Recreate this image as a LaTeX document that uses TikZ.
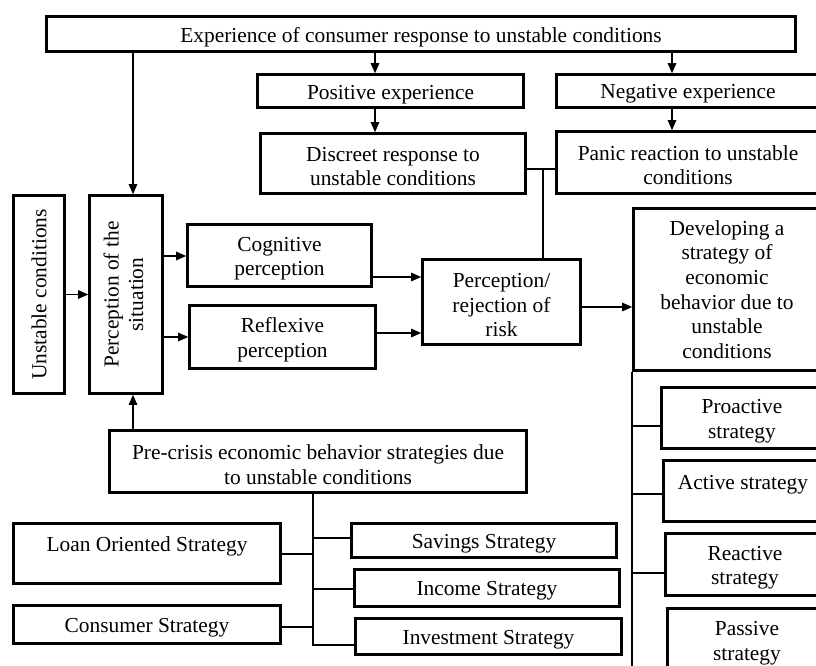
\documentclass[tikz,border=0pt]{standalone}
\usepackage{fontspec}
\setmainfont{Liberation Serif}
\usetikzlibrary{arrows.meta}
\newcommand\tallline{\rule{0pt}{20.6pt}}
\begin{document}
\begin{tikzpicture}[x=1pt,y=-1pt,
  box/.style={draw, line width=2.6pt, align=center, inner sep=2pt,
    font=\fontsize{21.4}{24.6}\selectfont},
  con/.style={line width=1.1pt},
  arr/.style={con, -{Triangle[length=10pt,width=8.5pt]}}]
\useasboundingbox (0,0) rectangle (816,666);
\clip (0,0) rectangle (816,666);
% boxes
\node[box, minimum width=749pt, minimum height=35pt] (top) at (421,34) {\tallline Experience of consumer response to unstable conditions};
\node[box, minimum width=266pt, minimum height=33pt] (pos) at (390.5,91) {\tallline Positive experience};
\node[box, minimum width=263pt, minimum height=33pt] (neg) at (688,91) {\tallline Negative experience};
\node[box, minimum width=265pt, minimum height=60pt] (disc) at (393,163.5) {\tallline Discreet response to\\unstable conditions};
\node[box, minimum width=263pt, minimum height=62pt] (panic) at (688,162.5) {\tallline Panic reaction to unstable\\conditions};
\node[box, minimum width=51pt, minimum height=198pt] (unst) at (39,294.5) {\rotatebox{90}{Unstable conditions}};
\node[box, minimum width=73pt, minimum height=198pt] (persit) at (126,294.5) {\rotatebox{90}{\begin{tabular}{@{}c@{}}Perception of the\\situation\end{tabular}}};
\node[box, minimum width=184pt, minimum height=62pt] (cog) at (279.5,255.5) {\tallline Cognitive\\perception};
\node[box, minimum width=186pt, minimum height=63pt] (refl) at (282.5,337) {\tallline Reflexive\\perception};
\node[box, minimum width=158pt, minimum height=85pt] (risk) at (501.5,302) {\tallline Perception/\\rejection of\\risk};
\node[box, minimum width=187pt, minimum height=162pt] (dev) at (727,289.5) {Developing a\\strategy of\\economic\\behavior due to\\unstable\\conditions};
\node[box, minimum width=161pt, minimum height=61pt] (pro) at (742,418) {\tallline Proactive\\strategy};
\node[box, minimum width=159pt, minimum height=61pt] (act) at (743,491) {\tallline Active strategy\\\mbox{}};
\node[box, minimum width=159pt, minimum height=62pt] (react) at (745,564.5) {\tallline Reactive\\strategy};
\node[box, minimum width=159pt, minimum height=63pt] (pass) at (747,640) {\tallline Passive\\strategy};
\node[box, minimum width=417pt, minimum height=62pt] (pre) at (318,461.5) {\tallline Pre-crisis economic behavior strategies due\\to unstable conditions};
\node[box, minimum width=267pt, minimum height=60pt] (loan) at (147,553.5) {\tallline Loan Oriented Strategy\\\mbox{}};
\node[box, minimum width=267pt, minimum height=38pt] (cons) at (147,624.5) {\tallline Consumer Strategy};
\node[box, minimum width=265pt, minimum height=34pt] (sav) at (484,540.5) {\tallline Savings Strategy};
\node[box, minimum width=265pt, minimum height=37pt] (inc) at (487,588) {\tallline Income Strategy};
\node[box, minimum width=266pt, minimum height=36pt] (inv) at (488.5,636.5) {\tallline Investment Strategy};
% guide coordinates
\coordinate (xa) at (375,0);
\coordinate (xb) at (672,0);
\coordinate (xc) at (133,0);
\coordinate (xd) at (543,169);
\coordinate (xe) at (632,0);
\coordinate (xf) at (313,645);
\coordinate (ybot) at (0,670);
% connectors
\draw[arr] (xa |- top.south) -- (xa |- pos.north);
\draw[arr] (xb |- top.south) -- (xb |- neg.north);
\draw[arr] (xa |- pos.south) -- (xa |- disc.north);
\draw[arr] (xb |- neg.south) -- (xb |- panic.north);
\draw[arr] (xc |- top.south) -- (xc |- persit.north);
\draw[arr] (xc |- pre.north) -- (xc |- persit.south);
\draw[con] (disc.east |- xd) -- (panic.west |- xd);
\draw[con] (xd) -- (xd |- risk.north);
\draw[arr] (unst.east) -- (persit.west);
\draw[arr] (persit.east |- 0,256) -- (cog.west |- 0,256);
\draw[arr] (persit.east |- 0,337) -- (refl.west |- 0,337);
\draw[arr] (cog.east |- 0,277) -- (risk.west |- 0,277);
\draw[arr] (refl.east |- 0,333) -- (risk.west |- 0,333);
\draw[arr] (risk.east |- 0,307) -- (dev.west |- 0,307);
\draw[con] (xe |- dev.south) -- (xe |- ybot);
\draw[con] (xe |- 0,426) -- (pro.west |- 0,426);
\draw[con] (xe |- 0,494) -- (act.west |- 0,494);
\draw[con] (xe |- 0,573) -- (react.west |- 0,573);
\draw[con] (xf |- pre.south) -- (xf) -- (inv.west |- xf);
\draw[con] (loan.east |- 0,554) -- (xf |- 0,554);
\draw[con] (cons.east |- 0,627) -- (xf |- 0,627);
\draw[con] (xf |- 0,538) -- (sav.west |- 0,538);
\draw[con] (xf |- 0,589) -- (inc.west |- 0,589);
\end{tikzpicture}
\end{document}
